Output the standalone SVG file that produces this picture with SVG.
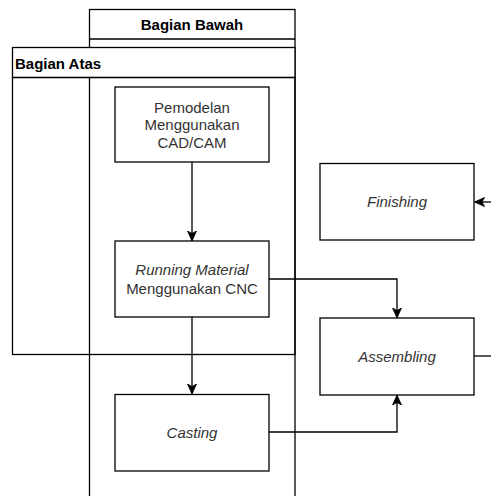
<svg xmlns="http://www.w3.org/2000/svg" width="491" height="496" viewBox="0 0 491 496">
<style>
.ln{fill:none;stroke:#000;stroke-width:1.3}
.box{fill:#fff;stroke:#000;stroke-width:1.3}
.hd{font-family:"Liberation Sans",Arial,sans-serif;font-size:15px;font-weight:bold;fill:#000}
.tx{font-family:"Liberation Sans",Arial,sans-serif;font-size:15px;fill:#333;text-anchor:middle}
.it{font-style:italic}
</style>
<defs>
<marker id="arr" viewBox="0 0 10 10" refX="10" refY="5" markerWidth="10" markerHeight="10" markerUnits="userSpaceOnUse" orient="auto">
<path d="M0,0.5 L10,5 L0,9.5 L2.5,5 Z" fill="#000" stroke="#000" stroke-width="0.8"/>
</marker>
</defs>
<g id="lane-bawah">
<rect class="box" x="89.5" y="9.5" width="205.5" height="500"/>
<line class="ln" x1="89.5" y1="39" x2="295" y2="39"/>
<text class="hd" x="192" y="30" text-anchor="middle">Bagian Bawah</text>
</g>
<g id="lane-atas">
<rect class="box" x="12.5" y="47.5" width="282.5" height="30"/>
<rect class="ln" x="12.5" y="77.5" width="282.5" height="277"/>
<text class="hd" x="15" y="68.5">Bagian Atas</text>
</g>
<g id="connectors">
<line class="ln" x1="192" y1="162" x2="192" y2="241" marker-end="url(#arr)"/>
<polyline class="ln" points="269,279 397,279 397,318" marker-end="url(#arr)"/>
<line class="ln" x1="192" y1="317" x2="192" y2="394" marker-end="url(#arr)"/>
<polyline class="ln" points="269,432 397,432 397,395" marker-end="url(#arr)"/>
<line class="ln" x1="474" y1="356" x2="491" y2="356"/>
<line class="ln" x1="491" y1="202" x2="474.5" y2="202" marker-end="url(#arr)"/>
</g>
<g id="node-pemodelan">
<rect class="box" x="115" y="87" width="154" height="75"/>
<text class="tx" x="192" y="112.5">Pemodelan</text>
<text class="tx" x="192" y="130">Menggunakan</text>
<text class="tx" x="192" y="147.5">CAD/CAM</text>
</g>
<g id="node-running">
<rect class="box" x="115" y="241" width="154" height="76"/>
<text class="tx it" x="192" y="274.5">Running Material</text>
<text class="tx" x="192" y="293.5">Menggunakan CNC</text>
</g>
<g id="node-casting">
<rect class="box" x="115" y="394.5" width="154" height="76.5"/>
<text class="tx it" x="192" y="438">Casting</text>
</g>
<g id="node-finishing">
<rect class="box" x="320" y="163.5" width="154" height="76.5"/>
<text class="tx it" x="397" y="207">Finishing</text>
</g>
<g id="node-assembling">
<rect class="box" x="320" y="318" width="154" height="77"/>
<text class="tx it" x="397" y="361.5">Assembling</text>
</g>
</svg>
